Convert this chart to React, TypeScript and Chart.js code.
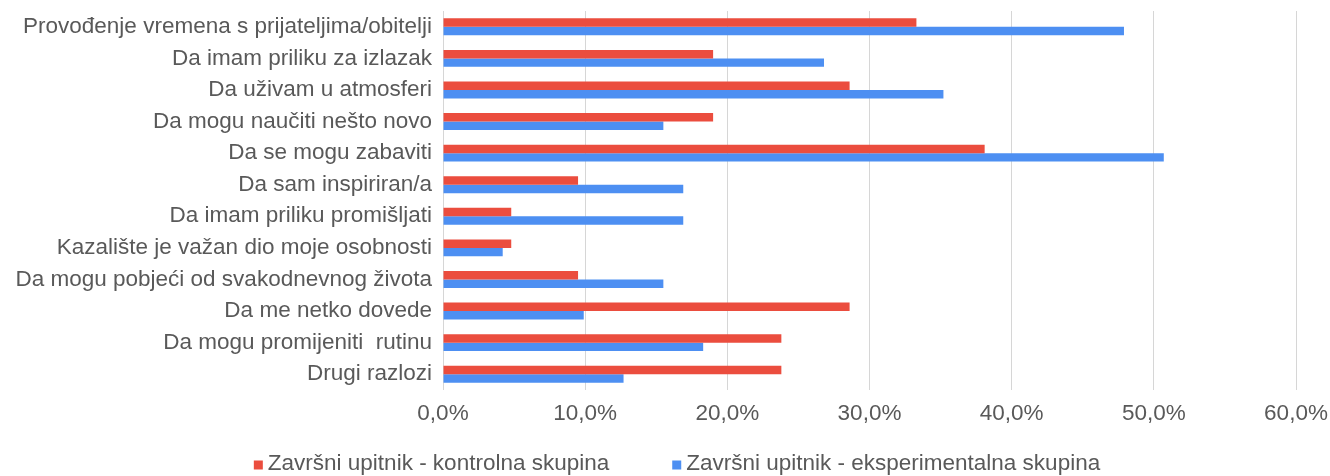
import { useEffect, useRef } from 'react';
import { Chart, registerables } from 'chart.js';

Chart.register(...registerables);

const categories = [
  'Provođenje vremena s prijateljima/obitelji',
  'Da imam priliku za izlazak',
  'Da uživam u atmosferi',
  'Da mogu naučiti nešto novo',
  'Da se mogu zabaviti',
  'Da sam inspiriran/a',
  'Da imam priliku promišljati',
  'Kazalište je važan dio moje osobnosti',
  'Da mogu pobjeći od svakodnevnog života',
  'Da me netko dovede',
  'Da mogu promijeniti  rutinu',
  'Drugi razlozi',
];

const controlLabel = 'Završni upitnik - kontrolna skupina';
const experimentalLabel = 'Završni upitnik - eksperimentalna skupina';

const controlValues = [33.3, 19.0, 28.6, 19.0, 38.1, 9.5, 4.8, 4.8, 9.5, 28.6, 23.8, 23.8];
const experimentalValues = [47.9, 26.8, 35.2, 15.5, 50.7, 16.9, 16.9, 4.2, 15.5, 9.9, 18.3, 12.7];

const xTickValues = [0, 10, 20, 30, 40, 50, 60];

const RED = '#EB4D3E';
const BLUE = '#4D8FF2';
const TEXT = '#595959';
const FONT_FAMILY = '"Liberation Sans", Arial, sans-serif';
const FONT_SIZE = 22.5;

const legendPlugin = {
  id: 'customLegend',
  afterDraw(chart: any) {
    const ctx = chart.ctx as CanvasRenderingContext2D;
    ctx.save();
    ctx.font = `${FONT_SIZE}px ${FONT_FAMILY}`;
    ctx.textBaseline = 'middle';
    ctx.textAlign = 'left';
    const box = 9;
    const gapBox = 5;
    const gapItem = 63;
    const items = chart.data.datasets.map((ds: any) => ({
      text: ds.label as string,
      color: ds.backgroundColor as string,
      w: ctx.measureText(ds.label).width,
    }));
    const total =
      items.reduce((s: number, it: any) => s + box + gapBox + it.w, 0) + gapItem * (items.length - 1);
    let x = 677 - total / 2;
    const y = 464;
    for (const it of items) {
      ctx.fillStyle = it.color;
      ctx.fillRect(x, y - box / 2 + 1, box, box);
      x += box + gapBox;
      ctx.fillStyle = TEXT;
      ctx.fillText(it.text, x, y);
      x += it.w + gapItem;
    }
    ctx.restore();
  },
};

export default function App() {
  const canvasRef = useRef<HTMLCanvasElement | null>(null);

  useEffect(() => {
    document.body.style.margin = '0';
    const canvas = canvasRef.current;
    if (!canvas) return;
    const chart = new Chart(canvas, {
      type: 'bar',
      data: {
        labels: categories,
        datasets: [
          {
            label: controlLabel,
            data: controlValues,
            backgroundColor: RED,
            borderWidth: 0,
            categoryPercentage: 0.535,
            barPercentage: 1,
          },
          {
            label: experimentalLabel,
            data: experimentalValues,
            backgroundColor: BLUE,
            borderWidth: 0,
            categoryPercentage: 0.535,
            barPercentage: 1,
          },
        ],
      },
      options: {
        indexAxis: 'y',
        animation: false,
        responsive: true,
        maintainAspectRatio: false,
        layout: { padding: { top: 11, right: 34, bottom: 49, left: 0 } },
        plugins: {
          legend: { display: false },
          tooltip: { enabled: false },
          title: { display: false },
        },
        scales: {
          x: {
            type: 'linear',
            min: 0,
            max: 60,
            afterBuildTicks: (scale: any) => {
              scale.ticks = xTickValues.map((v) => ({ value: v }));
            },
            afterFit: (scale: any) => {
              scale.height = 37;
              scale.paddingLeft = 0;
              scale.paddingRight = 0;
            },
            ticks: {
              padding: 10,
              color: TEXT,
              font: { family: FONT_FAMILY, size: FONT_SIZE },
              callback: (v: any) => Number(v).toFixed(1).replace('.', ',') + '%',
              maxRotation: 0,
            },
            grid: { color: '#D6D6D6', lineWidth: 1, drawTicks: false },
            border: { display: false },
          },
          y: {
            type: 'category',
            afterFit: (scale: any) => {
              scale.width = 443;
              scale.paddingTop = 0;
              scale.paddingBottom = 0;
            },
            ticks: {
              padding: 11,
              color: TEXT,
              font: { family: FONT_FAMILY, size: FONT_SIZE },
              autoSkip: false,
            },
            grid: { display: false, drawTicks: false },
            border: { display: false },
          },
        },
      },
      plugins: [legendPlugin],
    });
    return () => chart.destroy();
  }, []);

  return (
    <div style={{ width: 1330, height: 476, position: 'relative' }}>
      <canvas ref={canvasRef} />
    </div>
  );
}
